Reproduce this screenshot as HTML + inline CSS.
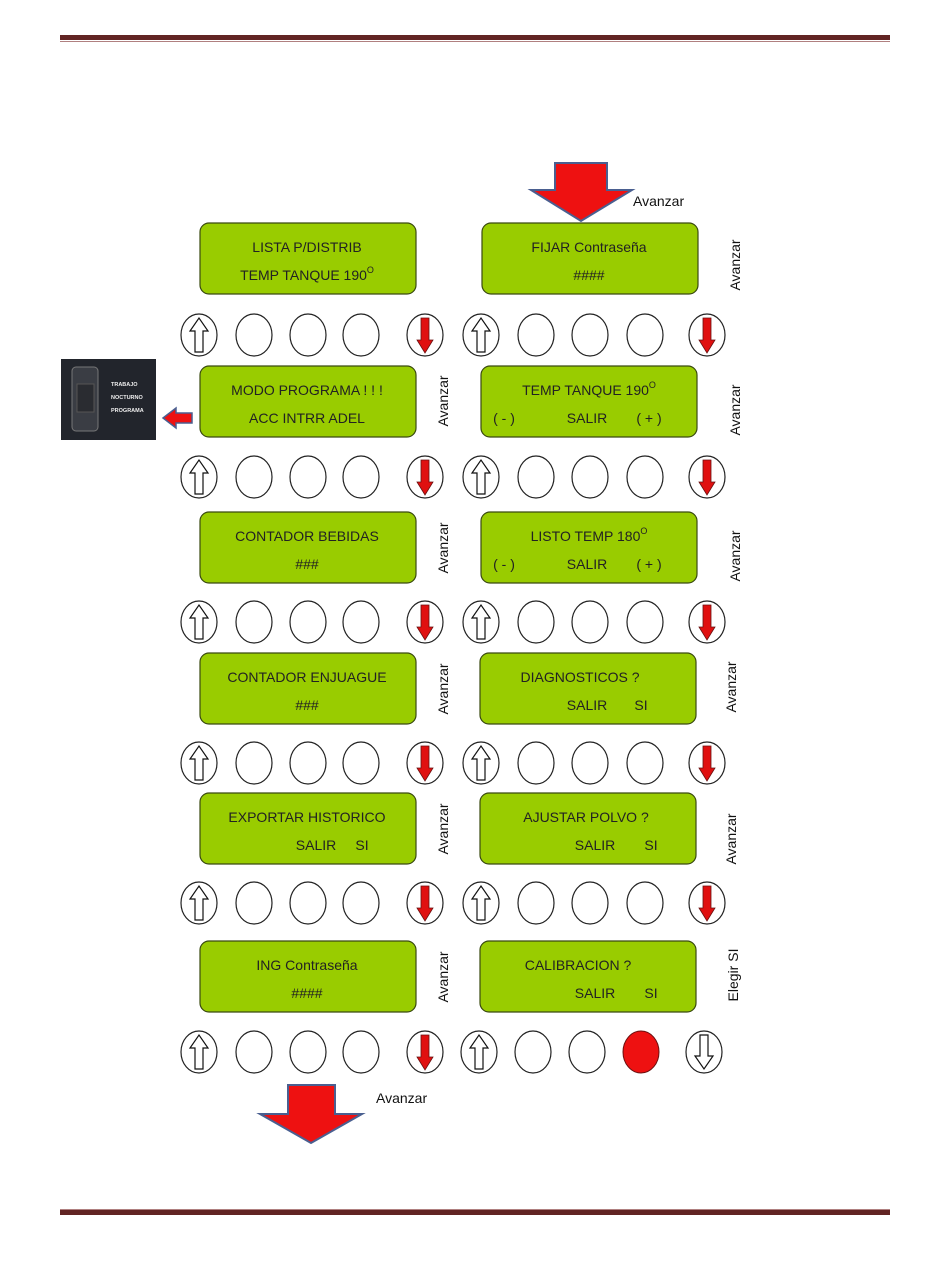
<!DOCTYPE html>
<html><head><meta charset="utf-8"><style>
html,body{margin:0;padding:0;background:#fff;}
svg{display:block;font-family:"Liberation Sans",sans-serif;}
.p{fill:#99cc00;stroke:#3a4a10;stroke-width:1.2;}
.t{font-size:14px;fill:#222;text-anchor:middle;}
.v{font-size:14px;fill:#111;text-anchor:middle;}
.b{fill:#fff;stroke:#222;stroke-width:1.2;}
</style></head><body>
<svg width="950" height="1267" viewBox="0 0 950 1267" xmlns="http://www.w3.org/2000/svg">
<defs>
<g id="btn"><ellipse class="b" cx="0" cy="0" rx="18" ry="21"/></g>
<g id="up"><ellipse class="b" cx="0" cy="0" rx="18" ry="21"/><path d="M-4,17 L-4,-4 L-9,-4 L0,-17 L9,-4 L4,-4 L4,17 Z" fill="#fff" stroke="#111" stroke-width="1.2"/></g>
<g id="dn"><ellipse class="b" cx="0" cy="0" rx="18" ry="21"/><path d="M-4,-17 L4,-17 L4,5 L8,5 L0,18 L-8,5 L-4,5 Z" fill="#e01010" stroke="#6a1010" stroke-width="0.8"/></g>
<g id="dnw"><ellipse class="b" cx="0" cy="0" rx="18" ry="21"/><path d="M-4,-17 L4,-17 L4,4 L9,4 L0,17 L-9,4 L-4,4 Z" fill="#fff" stroke="#111" stroke-width="1.2"/></g>
<g id="row"><use href="#up" x="199"/><use href="#btn" x="254"/><use href="#btn" x="308"/><use href="#btn" x="361"/><use href="#dn" x="425"/><use href="#up" x="481"/><use href="#btn" x="536"/><use href="#btn" x="590"/><use href="#btn" x="645"/><use href="#dn" x="707"/></g>
</defs>
<rect x="60" y="35" width="830" height="5" fill="#622423"/>
<rect x="60" y="41" width="830" height="1" fill="#b08080"/>
<rect x="60" y="1210" width="830" height="5" fill="#622423"/>
<rect x="60" y="1209" width="830" height="1" fill="#b08080"/>

<path d="M555,163 L607,163 L607,190 L632,190 L581,221 L531,190 L555,190 Z" fill="#ee1111" stroke="#4a5f90" stroke-width="2"/>
<text x="633" y="206" font-size="14" fill="#111">Avanzar</text>

<path d="M288,1085 L335,1085 L335,1114 L362,1114 L311,1143 L260,1114 L288,1114 Z" fill="#ee1111" stroke="#4a5f90" stroke-width="2"/>
<text x="376" y="1103" font-size="14" fill="#111">Avanzar</text>

<rect x="61" y="359" width="95" height="81" fill="#22252c"/>
<rect x="72" y="367" width="26" height="64" rx="4" fill="#3a3d44" stroke="#777" stroke-width="1"/>
<rect x="77" y="384" width="17" height="28" fill="#2a2c31" stroke="#555"/>
<text x="111" y="386" font-size="5.5" font-weight="bold" fill="#eee">TRABAJO</text>
<text x="111" y="399" font-size="5.5" font-weight="bold" fill="#eee">NOCTURNO</text>
<text x="111" y="412" font-size="5.5" font-weight="bold" fill="#eee">PROGRAMA</text>
<path d="M163,418 L176,408 L176,413 L192,413 L192,423 L176,423 L176,428 Z" fill="#ee1111" stroke="#4a5f90" stroke-width="1.5"/>

<!-- row 1 -->
<rect class="p" x="200" y="223" width="216" height="71" rx="9"/>
<text class="t" x="307" y="252">LISTA P/DISTRIB</text>
<text class="t" x="307" y="280">TEMP TANQUE  190<tspan dy="-7" font-size="9">O</tspan></text>
<rect class="p" x="482" y="223" width="216" height="71" rx="9"/>
<text class="t" x="589" y="252">FIJAR Contraseña</text>
<text class="t" x="589" y="280">####</text>
<text class="v" transform="translate(740,265) rotate(-90)">Avanzar</text>
<use href="#row" y="335"/>

<!-- row 2 -->
<rect class="p" x="200" y="366" width="216" height="71" rx="9"/>
<text class="t" x="307" y="395">MODO PROGRAMA ! ! !</text>
<text class="t" x="307" y="423">ACC INTRR  ADEL</text>
<text class="v" transform="translate(448,401) rotate(-90)">Avanzar</text>
<rect class="p" x="481" y="366" width="216" height="71" rx="9"/>
<text class="t" x="589" y="395">TEMP TANQUE   190<tspan dy="-7" font-size="9">O</tspan></text>
<text class="t" x="504" y="423">( - )</text><text class="t" x="587" y="423">SALIR</text><text class="t" x="649" y="423">( + )</text>
<text class="v" transform="translate(740,410) rotate(-90)">Avanzar</text>
<use href="#row" y="477"/>

<!-- row 3 -->
<rect class="p" x="200" y="512" width="216" height="71" rx="9"/>
<text class="t" x="307" y="541">CONTADOR  BEBIDAS</text>
<text class="t" x="307" y="569">###</text>
<text class="v" transform="translate(448,548) rotate(-90)">Avanzar</text>
<rect class="p" x="481" y="512" width="216" height="71" rx="9"/>
<text class="t" x="589" y="541">LISTO TEMP  180<tspan dy="-7" font-size="9">O</tspan></text>
<text class="t" x="504" y="569">( - )</text><text class="t" x="587" y="569">SALIR</text><text class="t" x="649" y="569">( + )</text>
<text class="v" transform="translate(740,556) rotate(-90)">Avanzar</text>
<use href="#row" y="622"/>

<!-- row 4 -->
<rect class="p" x="200" y="653" width="216" height="71" rx="9"/>
<text class="t" x="307" y="682">CONTADOR  ENJUAGUE</text>
<text class="t" x="307" y="710">###</text>
<text class="v" transform="translate(448,689) rotate(-90)">Avanzar</text>
<rect class="p" x="480" y="653" width="216" height="71" rx="9"/>
<text class="t" x="580" y="682">DIAGNOSTICOS  ?</text>
<text class="t" x="587" y="710">SALIR</text><text class="t" x="641" y="710">SI</text>
<text class="v" transform="translate(736,687) rotate(-90)">Avanzar</text>
<use href="#row" y="763"/>

<!-- row 5 -->
<rect class="p" x="200" y="793" width="216" height="71" rx="9"/>
<text class="t" x="307" y="822">EXPORTAR HISTORICO</text>
<text class="t" x="316" y="850">SALIR</text><text class="t" x="362" y="850">SI</text>
<text class="v" transform="translate(448,829) rotate(-90)">Avanzar</text>
<rect class="p" x="480" y="793" width="216" height="71" rx="9"/>
<text class="t" x="586" y="822">AJUSTAR POLVO ?</text>
<text class="t" x="595" y="850">SALIR</text><text class="t" x="651" y="850">SI</text>
<text class="v" transform="translate(736,839) rotate(-90)">Avanzar</text>
<use href="#row" y="903"/>

<!-- row 6 -->
<rect class="p" x="200" y="941" width="216" height="71" rx="9"/>
<text class="t" x="307" y="970">ING Contraseña</text>
<text class="t" x="307" y="998">####</text>
<text class="v" transform="translate(448,977) rotate(-90)">Avanzar</text>
<rect class="p" x="480" y="941" width="216" height="71" rx="9"/>
<text class="t" x="578" y="970">CALIBRACION  ?</text>
<text class="t" x="595" y="998">SALIR</text><text class="t" x="651" y="998">SI</text>
<text class="v" transform="translate(738,975) rotate(-90)">Elegir SI</text>
<g transform="translate(0,1052)">
<use href="#up" x="199"/><use href="#btn" x="254"/><use href="#btn" x="308"/><use href="#btn" x="361"/><use href="#dn" x="425"/><use href="#up" x="479"/><use href="#btn" x="533"/><use href="#btn" x="587"/>
<ellipse cx="641" cy="0" rx="18" ry="21" fill="#ee1111" stroke="#6a1010" stroke-width="1"/>
<use href="#dnw" x="704"/>
</g>
</svg>
</body></html>
